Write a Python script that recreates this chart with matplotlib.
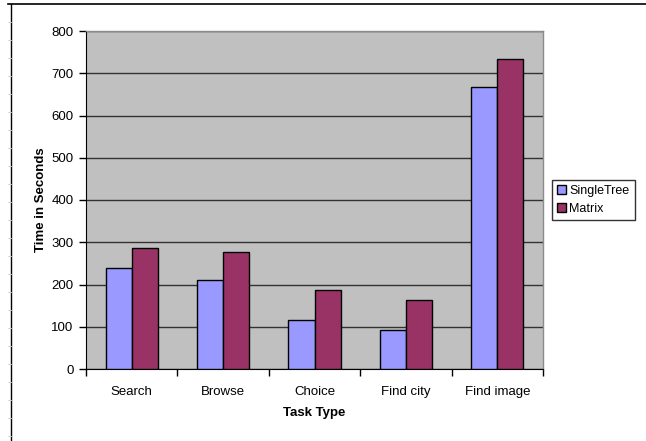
import numpy as np
import matplotlib.pyplot as plt
from matplotlib.lines import Line2D

plt.rcParams['font.family'] = ['Liberation Sans', 'DejaVu Sans']

tasks = ['Search', 'Browse', 'Choice', 'Find city', 'Find image']
single_tree = [239, 210, 116, 92, 667]
matrix = [287, 276, 186, 164, 733]
series_names = ['SingleTree', 'Matrix']
colors = ['#9999FF', '#993366']

fig = plt.figure(figsize=(6.46, 4.41), dpi=100)
W, H = 646, 441
ax = fig.add_axes([86 / W, 1 - 369 / H, (543 - 86) / W, (369 - 31) / H])
ax.set_facecolor('#C0C0C0')

x = np.arange(len(tasks))
bw = 0.285
ax.bar(x - bw / 2, single_tree, bw, color=colors[0], edgecolor='black',
       linewidth=1, label=series_names[0], zorder=3)
ax.bar(x + bw / 2, matrix, bw, color=colors[1], edgecolor='black',
       linewidth=1, label=series_names[1], zorder=3)

ax.set_xlim(-0.5, len(tasks) - 0.5)
ax.set_ylim(0, 800)
ax.set_yticks(range(0, 801, 100))
ax.yaxis.grid(True, color='#333333', linewidth=1, zorder=1)
ax.set_axisbelow(True)

# ticks between categories, labels at the centres
ax.set_xticks(np.arange(-0.5, len(tasks), 1))
ax.set_xticklabels([])
ax.set_xticks(x, minor=True)
ax.set_xticklabels(tasks, minor=True)
ax.tick_params(axis='x', which='minor', length=0, pad=12, labelsize=9.5, colors='black')
ax.tick_params(axis='x', which='major', length=5, direction='out', width=1)
ax.tick_params(axis='y', length=5, direction='out', width=1, pad=4, labelsize=9.5)

for s in ['top', 'right']:
    ax.spines[s].set_color('#8c8c8c')
    ax.spines[s].set_linewidth(1)
ax.spines['left'].set_color('black')
ax.spines['bottom'].set_color('black')

ax.set_xlabel('Task Type', fontweight='bold', fontsize=9.5, labelpad=7)
ax.set_ylabel('Time in Seconds', fontweight='bold', fontsize=9.5, labelpad=3)

leg = ax.legend(loc='center left', bbox_to_anchor=(552 / W, 1 - 200 / H),
                bbox_transform=fig.transFigure, frameon=True, fancybox=False,
                fontsize=9, handlelength=0.7, handleheight=0.7,
                handletextpad=0.3, borderpad=0.4, labelspacing=0.45,
                borderaxespad=0)
leg.get_frame().set_edgecolor('black')
leg.get_frame().set_linewidth(1)

# page border lines
fig.add_artist(Line2D([8 / W, 1], [1 - 4 / H, 1 - 4 / H], color='black', linewidth=1.2))
fig.add_artist(Line2D([11 / W, 11 / W], [0, 1 - 4 / H], color='black', linewidth=1))
for yy in np.arange(22, H, 18):
    fig.add_artist(Line2D([8 / W, 11 / W], [1 - yy / H, 1 - yy / H],
                          color='#d0d0d0', linewidth=0.6))

fig.savefig('out.png', dpi=100)
